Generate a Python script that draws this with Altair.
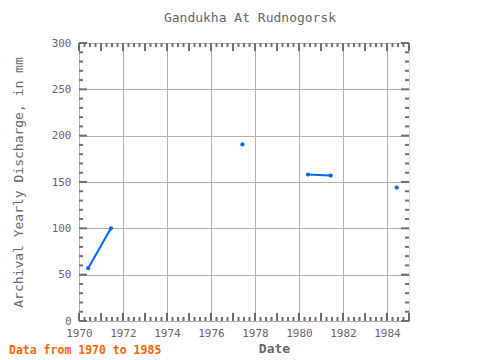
import altair as alt
import pandas as pd

# ---- data ----
years = [1970.42, 1971.45, 1977.43, 1980.41, 1981.44, 1984.44]
values = [57, 100, 190.5, 158, 157, 144]
segments = [0, 0, 1, 2, 2, 3]

x_labels = [1970, 1972, 1974, 1976, 1978, 1980, 1982, 1984]
title_text = "Gandukha At Rudnogorsk"
y_title = "Archival Yearly Discharge, in mm"
x_title = "Date"
footer_text = "Data from 1970 to 1985"

X_DOMAIN = [1970, 1985]
Y_DOMAIN = [0, 300]
W, H = 330, 278
FONT = "DejaVu Sans Mono"
TXT = "#666666"
FRAME = "#6e6e6e"

df = pd.DataFrame({"year": years, "value": values, "seg": segments})

xs = alt.Scale(domain=X_DOMAIN, nice=False, zero=False)
ys = alt.Scale(domain=Y_DOMAIN, nice=False)

base = alt.Chart(df)

line = base.mark_line(color="#0066ff", strokeWidth=2).encode(
    x=alt.X("year:Q", scale=xs,
            axis=alt.Axis(values=list(range(1970, 1986)),
                          labelExpr="datum.value % 2 == 0 ? datum.value : ''",
                          title=x_title, ticks=False, domain=False,
                          labelFlush=False, labelOverlap=False,
                          labelPadding=6, labelFont=FONT, labelFontSize=11,
                          labelColor=TXT, titleFont=FONT, titleFontSize=13,
                          titleColor=TXT, titleFontWeight="bold",
                          titleX=195, titleY=27, titleBaseline="middle",
                          gridColor="#b0b0b0", gridWidth=1)),
    y=alt.Y("value:Q", scale=ys,
            axis=alt.Axis(values=list(range(0, 301, 50)), title=y_title,
                          ticks=False, domain=False, labelPadding=8,
                          labelFlush=False,
                          labelFont=FONT, labelFontSize=11, labelColor=TXT,
                          titleFont=FONT, titleFontSize=13, titleColor=TXT,
                          titleFontWeight="normal",
                          titleX=-61, titleY=H / 2, titleBaseline="middle",
                          gridColor="#b0b0b0", gridWidth=1)),
    detail="seg:N",
)

points = base.mark_point(filled=True, shape="circle", size=18,
                         color="#0066ff", opacity=1).encode(
    x=alt.X("year:Q", scale=xs), y=alt.Y("value:Q", scale=ys))

# inward frame ticks
x_major = [float(v) for v in range(1970, 1986)]
x_minor = [1970 + q / 4 for q in range(0, 61) if q % 4 != 0]
y_major = [float(v) for v in range(0, 301, 50)]
y_minor = [float(v) for v in range(0, 301, 10) if v % 50 != 0]


def xticks(vals, length):
    d = pd.DataFrame({"t": vals})
    c = alt.Chart(d)
    bot = c.mark_rule(color=FRAME, strokeWidth=2).encode(
        x=alt.X("t:Q", scale=xs), y=alt.value(H), y2=alt.value(H - length))
    top = c.mark_rule(color=FRAME, strokeWidth=2).encode(
        x=alt.X("t:Q", scale=xs), y=alt.value(0), y2=alt.value(length))
    return [bot, top]


def yticks(vals, length):
    d = pd.DataFrame({"t": vals})
    c = alt.Chart(d)
    left = c.mark_rule(color=FRAME, strokeWidth=2).encode(
        y=alt.Y("t:Q", scale=ys), x=alt.value(0), x2=alt.value(length))
    right = c.mark_rule(color=FRAME, strokeWidth=2).encode(
        y=alt.Y("t:Q", scale=ys), x=alt.value(W), x2=alt.value(W - length))
    return [left, right]


ticks = xticks(x_major, 8) + xticks(x_minor, 4) + yticks(y_major, 8) + yticks(y_minor, 4)

footer = alt.Chart(pd.DataFrame({"label": [footer_text]})).mark_text(
    align="left", baseline="middle", font=FONT, fontSize=11.5,
    fontWeight="bold", color="#ff6600").encode(
    text="label:N", x=alt.value(-70), y=alt.value(308))

chart = alt.layer(line, points, *ticks, footer).properties(
    width=W, height=H,
    title=alt.TitleParams(title_text, font=FONT, fontSize=13, color=TXT,
                          fontWeight="normal", anchor="middle", dx=6,
                          offset=12),
    autosize=alt.AutoSizeParams(type="none"),
    padding={"left": 71, "top": 35, "right": 60, "bottom": 55},
).configure_view(stroke=FRAME, strokeWidth=3).configure(background="white")

chart.save("out.html", embed_options={"renderer": "svg", "actions": False})
